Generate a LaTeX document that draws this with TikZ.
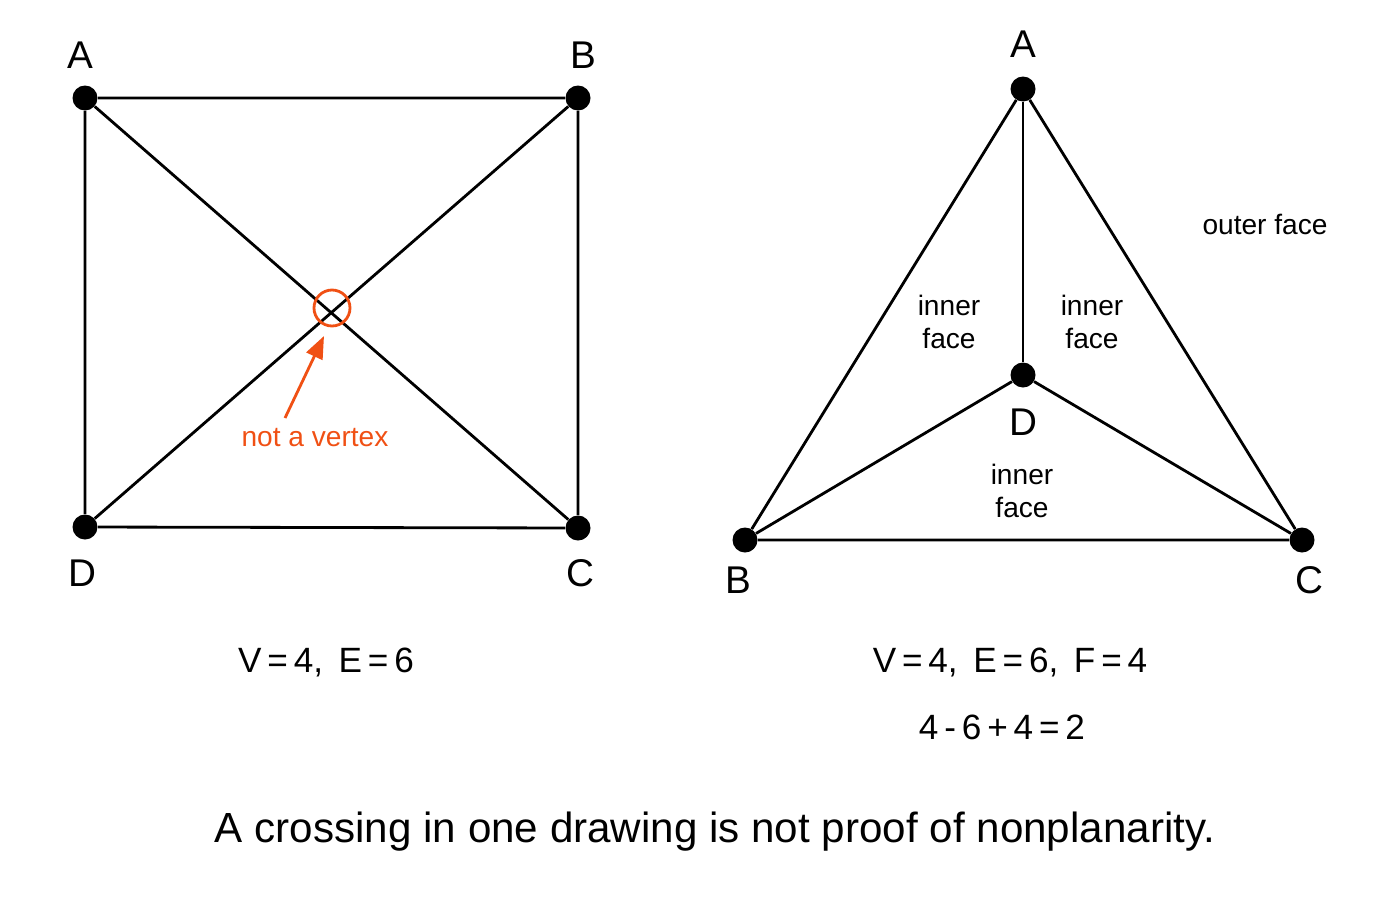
\documentclass[tikz,border=0pt]{standalone}
\usepackage{fontspec}
\setmainfont{Liberation Sans}
\usetikzlibrary{arrows.meta, positioning}
\definecolor{warn}{RGB}{240,80,20}
\tikzstyle{vertex} = [circle, fill=black, inner sep=0pt, minimum size=0.5cm]
\tikzstyle{edge} = [line width=1.6pt]
\tikzstyle{vlabel} = [font=\fontsize{22}{24}\selectfont]
\tikzstyle{facetext} = [font=\fontsize{16}{19}\selectfont, align=center]
\tikzstyle{count} = [font=\fontsize{20}{24}\selectfont]

\begin{document}
\begin{tikzpicture}[x=0.02cm, y=-0.02cm]
            \useasboundingbox (0,0) rectangle (1400,900);
            % crossed square
            \node[vertex] (sa) at (85,98) {};
            \node[vertex] (sb) at (578,98) {};
            \node[vertex] (sc) at (578,528) {};
            \node[vertex] (sd) at (85,527) {};
            \node[vlabel] at (80,55) {A};
            \node[vlabel] at (583,55) {B};
            \node[vlabel] at (580,573) {C};
            \node[vlabel] at (82,573) {D};
            \draw[edge] (sa) -- (sb) -- (sc) -- (sd) -- (sa);
            \draw[edge] (sa) -- (sc);
            \draw[edge] (sb) -- (sd);
            \node[circle, draw=warn, line width=1.6pt, minimum size=0.72cm] (cross) at (332,308) {};
            \node[facetext, text=warn] (nv) at (315,438) {not a vertex};
            \draw[warn, line width=1.6pt, -{Triangle[length=0.45cm, width=0.35cm]}] (285,418) -- (324,336);
            \node[count] at (326,662) {V\,=\,4,\, E\,=\,6};

            % planar drawing
            \node[vertex] (ta) at (1023,89) {};
            \node[vertex] (td) at (1023,375) {};
            \node[vertex] (tb) at (745,540) {};
            \node[vertex] (tc) at (1302,540) {};
            \node[vlabel] at (1023,44) {A};
            \node[vlabel] at (1023,422) {D};
            \node[vlabel] at (738,580) {B};
            \node[vlabel] at (1309,580) {C};
            \draw[edge] (ta) -- (tb) -- (tc) -- (ta);
            \draw[edge] (ta) -- (td);
            \draw[edge] (td) -- (tb);
            \draw[edge] (td) -- (tc);
            \node[facetext] at (949,322) {inner\\face};
            \node[facetext] at (1092,322) {inner\\face};
            \node[facetext] at (1022,491) {inner\\face};
            \node[facetext] at (1265,224) {outer face};
            \node[count] at (1010,662) {V\,=\,4,\, E\,=\,6,\, F\,=\,4};
            \node[count] at (1002,727) {4\,-\,6\,+\,4\,=\,2};

            \node[font=\fontsize{24}{28}\selectfont] at (715,832) {A crossing in one drawing is not proof of nonplanarity.};
        \end{tikzpicture}
\end{document}
